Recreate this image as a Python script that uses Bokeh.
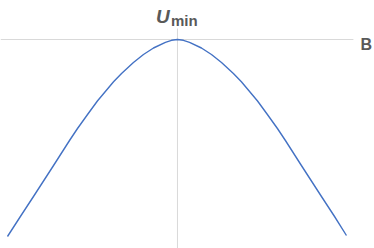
from bokeh.plotting import figure
from bokeh.models import Range1d, Label
from bokeh.embed import file_html
from bokeh.resources import INLINE

# Curve values (B on x, U on y)
b_vals = [-1.0, -0.924, -0.847, -0.729, -0.635, -0.588, -0.529, -0.471, -0.376, -0.329, -0.259,
          -0.2, -0.141, -0.071, -0.035, 0.0,
          0.035, 0.071, 0.141, 0.2, 0.259, 0.329, 0.376, 0.471, 0.529, 0.588, 0.635, 0.729,
          0.847, 0.924, 0.994]
u_vals = [0, 20, 40, 71, 96, 108, 122, 135.5, 154.7, 163, 174,
          182, 188.5, 194.2, 196.2, 197,
          196.2, 194.2, 188.5, 182, 174, 163, 154.7, 135.5, 122, 108, 96, 71,
          40, 20, 1]

u_min = 197
b_axis_end = 1.035
u_axis_top = 208

p = figure(width=374, height=248, output_backend="svg", toolbar_location=None,
           x_range=Range1d(-1.041, 1.159), y_range=Range1d(-12, 236),
           min_border=0, outline_line_color=None)
p.axis.visible = False
p.grid.visible = False
p.background_fill_color = "white"
p.border_fill_color = "white"

# axes lines
p.line([-1.041, b_axis_end], [u_min, u_min], line_color="#d9d9d9", line_width=1)
p.line([0, 0], [-12, u_axis_top], line_color="#d9d9d9", line_width=1)

# curve
p.line(b_vals, u_vals, line_color="#4472C4", line_width=1.4, line_join="round")

p.add_layout(Label(x=155.5, y=232, x_units="screen", y_units="screen", text="U",
                   text_font="Liberation Sans", text_font_style="bold italic",
                   text_font_size="19px", text_color="#595959", text_baseline="alphabetic"))
p.add_layout(Label(x=170.5, y=228, x_units="screen", y_units="screen", text="min",
                   text_font="Liberation Sans", text_font_style="bold",
                   text_font_size="15px", text_color="#595959", text_baseline="alphabetic"))
p.add_layout(Label(x=360, y=204, x_units="screen", y_units="screen", text="B",
                   text_font="Liberation Sans", text_font_style="bold",
                   text_font_size="16px", text_color="#595959", text_baseline="alphabetic"))

open("out.html", "w").write(file_html(p, INLINE))
